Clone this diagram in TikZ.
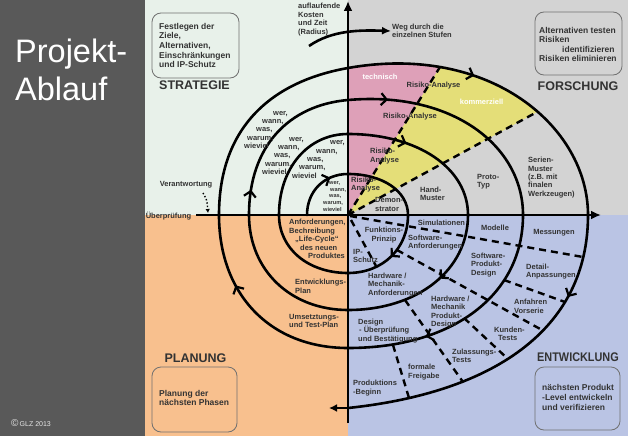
\documentclass[tikz,border=0pt]{standalone}
\usepackage{fontspec}
\setmainfont{Liberation Sans}
\usetikzlibrary{arrows.meta,decorations.markings}
\definecolor{panel}{HTML}{595959}
\definecolor{qgreen}{HTML}{E8F1EA}
\definecolor{qgrey}{HTML}{D3D3D3}
\definecolor{qorange}{HTML}{F8C08E}
\definecolor{qblue}{HTML}{BAC4E4}
\definecolor{wpink}{HTML}{DEA0B8}
\definecolor{wyellow}{HTML}{E4DE78}
\definecolor{txt}{HTML}{333333}
\definecolor{boxline}{HTML}{707070}
\definecolor{copyc}{HTML}{E6E6E6}
\begin{document}
\begin{tikzpicture}[x=1pt,y=-1pt,
  lbl/.style={font=\fontsize{7.5}{8.4}\selectfont\bfseries,text=txt,inner sep=0pt,align=left},
  lblc/.style={lbl,align=center},
  wlbl/.style={lbl,text=white},
  tinylbl/.style={font=\fontsize{5.6}{6.8}\selectfont\bfseries,text=txt,inner sep=0pt,align=left},
  head/.style={font=\fontsize{12.5}{14}\selectfont\bfseries,text=txt,inner sep=0pt},
  boxtxt/.style={font=\fontsize{8.5}{9.6}\selectfont\bfseries,text=txt,inner sep=0pt,align=left},
  infobox/.style={draw=boxline,line width=0.8pt,rounded corners=9pt,inner sep=0pt},
  spiral/.style={line width=2.6pt,line cap=round},
  sep/.style={line width=2.4pt,dash pattern=on 7pt off 5pt},
  axisline/.style={line width=2.6pt},
  chev/.style={postaction={decorate,decoration={markings,mark=at position #1 with {\arrow{Straight Barb[length=5.5pt,width=12pt,line width=2.2pt]}}}}},
]
\useasboundingbox (0,0) rectangle (628,436);
% backgrounds
\fill[panel] (0,0) rectangle (145,436);
\fill[qgreen] (145,0) rectangle (348,215);
\fill[qgrey] (348,0) rectangle (628,215);
\fill[qorange] (145,215) rectangle (348,436);
\fill[qblue] (348,215) rectangle (628,436);

% coordinates
\coordinate (O) at (348,215);
\coordinate (l1) at (307,215); \coordinate (l2) at (279,215); \coordinate (l3) at (249,215); \coordinate (l4) at (219,215);
\coordinate (t1) at (348,174); \coordinate (t2) at (348,134); \coordinate (t3) at (348,100); \coordinate (t4) at (348,68);
\coordinate (r1) at (408,215); \coordinate (r2) at (468,215); \coordinate (r3) at (523,215); \coordinate (r4) at (588,215);
\coordinate (b1) at (348,273); \coordinate (b2) at (348,310); \coordinate (b3) at (348,348); \coordinate (b4) at (348,408);
\coordinate (P) at (440,67); \coordinate (Q) at (537,112);

% wedges
\begin{scope}
\clip (348,215) -- (348,-2) -- (481.7,-2) -- (481.7,0) -- cycle;
\fill[wpink] (O) -- (t4) .. controls (489.8,42.9) and (588,126.8) .. (r4) -- cycle;
\end{scope}
\begin{scope}
\clip (348,215) -- (481.7,0) -- (630,0) -- (630,61.3) -- cycle;
\fill[wyellow] (O) -- (t4) .. controls (489.8,42.9) and (588,126.8) .. (r4) -- cycle;
\end{scope}

% dashed separators
\coordinate (sA0) at (350,216); \coordinate (sA1) at (583,257);
\coordinate (sI0) at (351,220); \coordinate (sI1) at (376,266);
\coordinate (sB0) at (397,250); \coordinate (sB1) at (542,330);
\coordinate (sC0) at (504,280); \coordinate (sC1) at (565,302);
\coordinate (sD0) at (405,300); \coordinate (sD1) at (463,382);
\coordinate (sE0) at (464,318); \coordinate (sE1) at (508,359);
\coordinate (sG0) at (393,345); \coordinate (sG1) at (409,398);
\draw[sep] (O) -- (P);
\draw[sep] (O) -- (Q);
\draw[sep] (sA0) -- (sA1);
\draw[sep] (sI0) -- (sI1);
\draw[sep] (sB0) -- (sB1);
\draw[sep] (sC0) -- (sC1);
\draw[sep] (sD0) -- (sD1);
\draw[sep] (sE0) -- (sE1);
\draw[sep] (sG0) -- (sG1);

% spiral
\draw[spiral,chev=0.72] (l1) .. controls (307,191.2) and (324.2,174) .. (t1);
\draw[spiral] (t1) .. controls (382.8,174) and (408,191.2) .. (r1);
\draw[spiral,chev=0.5] (r1) .. controls (408,248.6) and (382.8,273) .. (b1);
\draw[spiral] (b1) .. controls (308,273) and (279,248.6) .. (l2);
\draw[spiral] (l2) .. controls (279,168) and (308,134) .. (t2);
\draw[spiral,chev=0.37] (t2) .. controls (417.6,134) and (468,168) .. (r2);
\draw[spiral,chev=0.42] (r2) .. controls (468,270.1) and (417.6,310) .. (b2);
\draw[spiral] (b2) .. controls (290.6,310) and (249,270.1) .. (l3);
\draw[spiral,chev=0.15] (l3) .. controls (249,146) and (288.8,105.2) .. (t3);
\draw[spiral,chev=0.17] (t3) .. controls (452.6,90.9) and (523,146) .. (r3);
\draw[spiral,chev=0.68] (r3) .. controls (523,294.8) and (453,348) .. (b3);
\draw[spiral,chev=0.65] (b3) .. controls (270.6,348) and (219,294.8) .. (l4);
\draw[spiral] (l4) .. controls (219,126.8) and (271.8,81.5) .. (t4);
\draw[spiral,chev=0.4] (t4) .. controls (489.8,42.9) and (588,126.8) .. (r4);
\draw[spiral,chev=0.25] (r4) .. controls (588,330.8) and (491.3,392.9) .. (b4);

% axes and arrows
\coordinate (ax0) at (348,423); \coordinate (ax1) at (348,1);
\coordinate (ay0) at (196,215); \coordinate (ay1) at (601,215);
\coordinate (endarrow) at (329,408);
\coordinate (w0) at (309,46); \coordinate (w1) at (391,31);
\coordinate (v0) at (203,193); \coordinate (v1) at (208,213);
\draw[axisline,-{Latex[length=10pt,width=9pt]}] (ax0) -- (ax1);
\draw[axisline,-{Latex[length=10pt,width=9pt]}] (ay0) -- (ay1);
\draw[axisline,-{Latex[length=8pt,width=8pt]}] (b4) -- (endarrow);
\draw[axisline,-{Latex[length=9pt,width=8pt]}] (w0) .. controls (332,30) and (360,30) .. (w1);
\draw[line width=1.4pt,dotted,-{Latex[length=4pt,width=4.5pt]}] (v0) .. controls (207,200) .. (v1);

% left panel
\node[anchor=base west,inner sep=0pt,text=white,font=\fontsize{32.5}{38}\selectfont] (ti1) at (15,63) {Projekt-};
\node[anchor=base west,inner sep=0pt,text=white,font=\fontsize{32.5}{38}\selectfont] (ti2) at (15,100) {Ablauf};
\node[anchor=base west,inner sep=0pt,text=copyc,font=\fontsize{7}{8}\selectfont] (copy) at (11,426) {{\fontsize{10}{10}\selectfont\raisebox{-0.5pt}{©}}\,GLZ 2013};

% top-left quadrant
\node[infobox,minimum width=87pt,minimum height=65pt] (boxA) at (195.5,45.5) {};
\node[boxtxt,anchor=west] (boxAt) at (159,45.5) {Festlegen der\\Ziele,\\Alternativen,\\Einschränkungen\\und IP-Schutz};
\node[head] (strat) at (194.5,85) {STRATEGIE};
\node[lbl,anchor=west] (kosten) at (298,19.5) {auflaufende\\Kosten\\und Zeit\\(Radius)};
\node[lbl] (verant) at (186,185) {Verantwortung};
\node[lbl] (ueber) at (168.5,216.5) {Überprüfung};
\node[lbl,anchor=west] (w4) at (244,130) {\hspace*{29pt}wer,\\\hspace*{18pt}wann,\\\hspace*{12pt}was,\\\hspace*{3pt}warum,\\wieviel};
\node[lbl,anchor=west] (w3) at (262,156) {\hspace*{27pt}wer,\\\hspace*{16pt}wann,\\\hspace*{12pt}was,\\\hspace*{3pt}warum,\\wieviel};
\node[lbl,anchor=west] (w2) at (292,159.5) {\hspace*{38pt}wer,\\\hspace*{24pt}wann,\\\hspace*{15pt}was,\\\hspace*{7pt}warum,\\wieviel};
\node[tinylbl,anchor=west] (w1n) at (323,196.5) {\hspace*{6pt}wer,\\\hspace*{7pt}wann,\\\hspace*{6pt}was,\\warum,\\wieviel};

% top-right quadrant
\node[lbl,anchor=west] (weg) at (392,31) {Weg durch die\\einzelnen Stufen};
\node[infobox,minimum width=87pt,minimum height=63pt] (boxB) at (578.5,43.5) {};
\node[boxtxt,anchor=west] (boxBt) at (539,44.5) {Alternativen testen\\Risiken\\\hspace*{23pt}identifizieren\\Risiken eliminieren};
\node[head] (forsch) at (578,86) {FORSCHUNG};
\node[wlbl] (techn) at (380,77) {technisch};
\node[wlbl] (komm) at (481.5,102) {kommerziell};
\node[lbl] (ra4) at (433.5,86) {Risiko-Analyse};
\node[lbl] (ra3) at (410,117) {Risiko-Analyse};
\node[lbl,anchor=west] (ra2) at (370,156) {Risiko-\\Analyse};
\node[lbl,anchor=west] (ra1) at (351,184.5) {Risiko-\\Analyse};
\node[lbl,anchor=west] (demo) at (375,204.5) {Demon-\\strator};
\node[lbl,anchor=west] (hand) at (420,194) {Hand-\\Muster};
\node[lbl,anchor=west] (proto) at (477,181.5) {Proto-\\Typ};
\node[lbl,anchor=west] (serie) at (528,177.5) {Serien-\\Muster\\(z.B. mit\\finalen\\Werkzeugen)};

% bottom-left quadrant
\node[lbl,anchor=west] (anf) at (289,239) {Anforderungen,\\Bechreibung\\\hspace*{6pt}„Life-Cycle“\\\hspace*{11pt}des neuen\\\hspace*{19pt}Produktes};
\node[lbl,anchor=west] (eplan) at (295,286.5) {Entwicklungs-\\Plan};
\node[lbl,anchor=west] (uplan) at (289,321) {Umsetztungs-\\und Test-Plan};
\node[head] (plan) at (195.5,358) {PLANUNG};
\node[infobox,minimum width=85pt,minimum height=65pt] (boxC) at (194.5,399.5) {};
\node[boxtxt,anchor=west] (boxCt) at (159,398) {Planung der\\nächsten Phasen};

% bottom-right quadrant
\node[lblc] (funk) at (384,235) {Funktions-\\Prinzip};
\node[lbl,anchor=west] (ip) at (353,256) {IP-\\Schutz};
\node[lbl] (simu) at (441.5,223) {Simulationen};
\node[lbl,anchor=west] (swanf) at (408,242.5) {Software-\\Anforderungen};
\node[lbl] (mod) at (495,228) {Modelle};
\node[lbl] (mess) at (554,233) {Messungen};
\node[lbl,anchor=west] (swpd) at (471,265) {Software-\\Produkt-\\Design};
\node[lbl,anchor=west] (detail) at (526,271.5) {Detail-\\Anpassungen};
\node[lbl,anchor=west] (hwanf) at (368,285) {Hardware /\\Mechanik-\\Anforderungen};
\node[lbl,anchor=west] (hwpd) at (431,312) {Hardware /\\Mechanik\\Produkt-\\Design};
\node[lbl,anchor=west] (anfahr) at (514,306.5) {Anfahren\\Vorserie};
\node[lbl,anchor=west] (kunden) at (494,334) {Kunden-\\\hspace*{4pt}Tests};
\node[lbl,anchor=west] (zul) at (452,356) {Zulassungs-\\Tests};
\node[lbl,anchor=west] (design) at (358,331) {Design\\\hspace*{1pt}- Überprüfung\\und Bestätigung};
\node[lbl,anchor=west] (freig) at (408,372) {formale\\Freigabe};
\node[lbl,anchor=west] (prod) at (353,388) {Produktions\\-Beginn};
\node[head] (entw) at (578,357) {\scalebox{0.87}[1]{ENTWICKLUNG}};
\node[infobox,minimum width=85pt,minimum height=63pt] (boxD) at (577.5,398.5) {};
\node[boxtxt,anchor=west] (boxDt) at (542,397.5) {nächsten Produkt\\-Level entwickeln\\und verifizieren};
\end{tikzpicture}
\end{document}
